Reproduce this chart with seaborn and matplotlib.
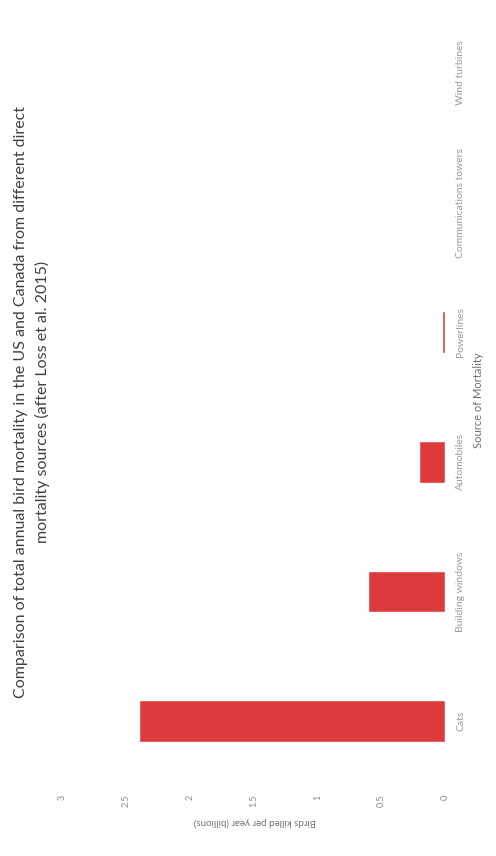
import pandas as pd
import seaborn as sns
import matplotlib.pyplot as plt

sources = ['Cats', 'Building windows', 'Automobiles', 'Powerlines',
           'Communications towers', 'Wind turbines']
birds_billions = [2.4, 0.6, 0.2, 0.025, 0.0066, 0.0002]
value_ticks = [0, 0.5, 1, 1.5, 2, 2.5, 3]
value_tick_labels = ['0', '0.5', '1', '1.5', '2', '2.5', '3']

df = pd.DataFrame({'source': sources, 'birds': birds_billions})

sns.set_style('white')
plt.rcParams['font.family'] = ['Lato', 'DejaVu Sans']

fig = plt.figure(figsize=(4.96, 8.56), dpi=100)
# chart is drawn turned a quarter turn: values run right-to-left, categories bottom-to-top
ax = fig.add_axes([62 / 496, 70 / 856, 383 / 496, 778 / 856])

sns.barplot(data=df, x='birds', y='source', order=sources, orient='h',
            color='#DD3B3B', width=0.32, saturation=1, ax=ax)

ax.set_ylim(-0.5, len(sources) - 0.5)
ax.set_xlim(3, 0)
ax.set_xticks(value_ticks)
ax.set_xticklabels(value_tick_labels)

ax.yaxis.tick_right()
ax.tick_params(axis='y', length=0, pad=8, labelsize=7.5, labelcolor='#9a9a9a', labelrotation=90)
for lab in ax.get_yticklabels():
    lab.set_va('center')
    lab.set_ha('left')
ax.tick_params(axis='x', length=0, pad=6, labelsize=6.5, labelcolor='#8a8a8a', labelrotation=90)
for lab in ax.get_xticklabels():
    lab.set_va('top')
    lab.set_ha('center')

ax.set_xlabel('')
ax.set_ylabel('')
sns.despine(ax=ax, left=True, bottom=True, right=True, top=True)

fig.text(255 / 496, 1 - 822 / 856, 'Birds killed per year (billions)', rotation=180,
         ha='center', va='center', fontsize=7, color='#707070')
fig.text(479 / 496, 1 - 400 / 856, 'Source of Mortality', rotation=90,
         ha='center', va='center', fontsize=8, color='#707070')

fig.text(32 / 496, 1 - 402 / 856,
         'Comparison of total annual bird mortality in the US and Canada from different direct\n'
         'mortality sources (after Loss et al. 2015)',
         rotation=90, ha='center', va='center', multialignment='center',
         fontsize=11.5, color='#404040', linespacing=1.55)

plt.savefig('out.png', dpi=100)
